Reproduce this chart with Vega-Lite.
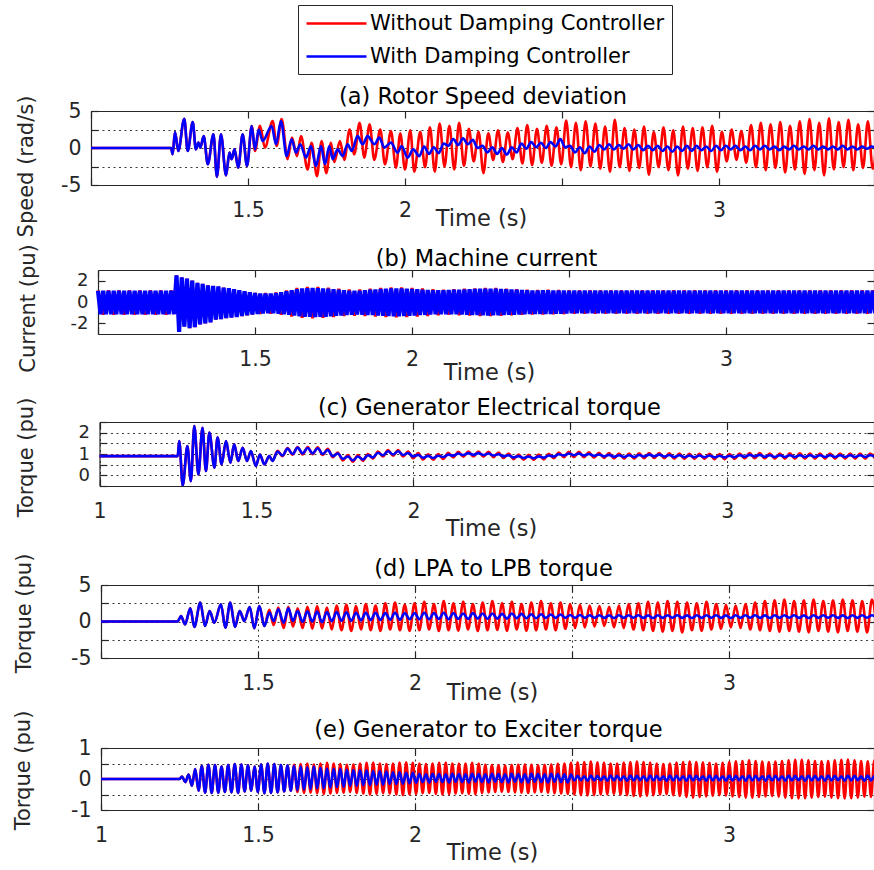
{
"$schema":"https://vega.github.io/schema/vega-lite/v6.json",
"padding":{"left":12,"top":4,"right":0,"bottom":0},
"config":{
"font":"DejaVu Sans",
"view":{"stroke":null},
"axis":{"labelFont":"DejaVu Sans","labelFontSize":20.5,"labelColor":"#262626","titleFont":"DejaVu Sans","titleFontSize":22.5,"titleFontWeight":"normal","titleColor":"#262626","domainColor":"#262626","domainWidth":1.2,"tickColor":"#262626","tickWidth":1.2,"tickSize":-7,"gridColor":"#262626","gridDash":[2,3.5],"gridWidth":1,"gridOpacity":0.9,"labelFlush":false,"labelOverlap":false,"titleAlign":"center"},
"axisX":{"titleBaseline":"alphabetic","labelPadding":22},
"axisY":{"titleBaseline":"middle","labelPadding":17,"titleAngle":270,"titleFontSize":21}
},
"datasets":{
"aB":[{"t":1,"v":0},{"t":1.255,"v":0},{"t":1.26,"v":-0.85},{"t":1.2675,"v":2.16},{"t":1.278,"v":-0.4},{"t":1.297,"v":3.96},{"t":1.308,"v":-0.4},{"t":1.324,"v":3.5},{"t":1.334,"v":-0.18},{"t":1.342,"v":0.72},{"t":1.348,"v":0.05},{"t":1.359,"v":1.6},{"t":1.372,"v":-2.2},{"t":1.39,"v":1.85},{"t":1.401,"v":-3.9},{"t":1.414,"v":1.85},{"t":1.43,"v":-3.7},{"t":1.441,"v":-0.63},{"t":1.448,"v":-1.5},{"t":1.457,"v":-0.18},{"t":1.469,"v":-2.66},{"t":1.483,"v":1.85},{"t":1.497,"v":-2.43},{"t":1.512,"v":2.97},
{"t":1.5223,"v":-0.18},{"t":1.534,"v":2.5},{"t":1.5467,"v":0.95},{"t":1.5754,"v":2.97},{"t":1.5892,"v":0.5},{"t":1.6051,"v":3.65},{"t":1.6231,"v":-1.08},{"t":1.6391,"v":1.17},{"t":1.6529,"v":-0.63},{"t":1.6667,"v":0.5},{"t":1.6847,"v":-1.3},{"t":1.7006,"v":0.27},{"t":1.7166,"v":-2.43},{"t":1.7325,"v":0.27},{"t":1.7452,"v":-2.2},{"t":1.759,"v":0.27},{"t":1.7697,"v":-1.5},{"t":1.7856,"v":-0.18},{"t":1.8015,"v":-1.1},{"t":1.8174,"v":0.5},{"t":1.8301,"v":-0.4},{"t":1.8492,"v":1.6},{"t":1.8652,"v":0.5},{"t":1.8811,"v":1.6},{"t":1.9023,"v":0.5},{"t":1.9183,"v":1.4},{"t":1.9342,"v":0.05},{"t":1.9554,"v":0.72},{"t":1.9766,"v":-0.63},{"t":1.9894,"v":0.27},{"t":2.0085,"v":-1.3},{"t":2.0265,"v":-0.18},{"t":2.0456,"v":-1.1},
{"t":2.061,"v":0.2},{"t":2.0765,"v":-0.8},{"t":2.092,"v":0.1},{"t":2.1075,"v":-0.7},{"t":2.123,"v":0.6},{"t":2.1385,"v":0.3},{"t":2.154,"v":1.2},{"t":2.1695,"v":0.4},{"t":2.185,"v":1.3},{"t":2.2005,"v":0.5},{"t":2.216,"v":1.1},{"t":2.2315,"v":0},{"t":2.247,"v":0.3},{"t":2.2625,"v":-0.6},{"t":2.278,"v":0.1},{"t":2.2935,"v":-0.8},{"t":2.309,"v":0},{"t":2.3245,"v":-0.9},{"t":2.34,"v":0.1},{"t":2.3555,"v":-0.6},{"t":2.371,"v":0.6},{"t":2.3865,"v":-0.1},{"t":2.402,"v":0.8},{"t":2.4175,"v":0.1},{"t":2.433,"v":0.7},{"t":2.4485,"v":0},{"t":2.464,"v":0.8},{"t":2.4795,"v":0.2},{"t":2.495,"v":1.2},{"t":2.5105,"v":0.1},{"t":2.526,"v":0.3},{"t":2.5415,"v":-0.6},{"t":2.557,"v":0.1},{"t":2.5725,"v":-0.7},{"t":2.588,"v":0.2},{"t":2.6035,"v":-0.5},{"t":2.619,"v":0.4},{"t":2.6345,"v":-0.2},{"t":2.65,"v":0.5},{"t":2.6655,"v":-0.2},{"t":2.681,"v":0.4},{"t":2.6965,"v":-0.1},{"t":2.712,"v":0.5},{"t":2.7275,"v":-0.2},{"t":2.743,"v":0.4},{"t":2.7585,"v":-0.3},{"t":2.774,"v":0.3},{"t":2.7895,"v":-0.3},{"t":2.805,"v":0.3},{"t":2.8205,"v":-0.4},{"t":2.836,"v":0.2},{"t":2.8515,"v":-0.5},{"t":2.867,"v":0.2},{"t":2.8825,"v":-0.4},{"t":2.898,"v":0.3},{"t":2.9135,"v":-0.4},{"t":2.929,"v":0.3},{"t":2.9445,"v":-0.3},{"t":2.96,"v":0.2},{"t":2.9755,"v":-0.4},{"t":2.991,"v":0.3},{"t":3.0065,"v":-0.3},{"t":3.022,"v":0.3},{"t":3.0375,"v":-0.2},{"t":3.053,"v":0.3},{"t":3.0685,"v":-0.3},{"t":3.084,"v":0.2},{"t":3.0995,"v":-0.3},{"t":3.115,"v":0.3},{"t":3.1305,"v":-0.2},{"t":3.146,"v":0.3},{"t":3.1615,"v":-0.2},{"t":3.177,"v":0.2},{"t":3.1925,"v":-0.3},{"t":3.208,"v":0.2},{"t":3.2235,"v":-0.2},{"t":3.239,"v":0.3},{"t":3.2545,"v":-0.2},{"t":3.27,"v":0.2},{"t":3.2855,"v":-0.2},{"t":3.301,"v":0.3},{"t":3.3165,"v":-0.2},{"t":3.332,"v":0.2},{"t":3.3475,"v":-0.2},{"t":3.363,"v":0.2},{"t":3.3785,"v":-0.2},{"t":3.394,"v":0.3},{"t":3.4095,"v":-0.2},{"t":3.425,"v":0.2},{"t":3.4405,"v":-0.2},{"t":3.456,"v":0.2},{"t":3.4715,"v":-0.1},{"t":3.487,"v":0.2},{"t":3.5025,"v":-0.1}],
"aR":[{"t":1,"v":0},{"t":1.255,"v":0},{"t":1.26,"v":-0.85},{"t":1.2675,"v":2.16},{"t":1.278,"v":-0.4},{"t":1.297,"v":3.96},{"t":1.308,"v":-0.4},{"t":1.324,"v":3.5},{"t":1.334,"v":-0.18},{"t":1.342,"v":0.72},{"t":1.348,"v":0.05},{"t":1.359,"v":1.6},{"t":1.372,"v":-2.2},{"t":1.39,"v":1.85},{"t":1.401,"v":-3.9},{"t":1.414,"v":1.85},{"t":1.43,"v":-3.7},{"t":1.441,"v":-0.63},{"t":1.448,"v":-1.5},{"t":1.457,"v":-0.18},{"t":1.469,"v":-2.66},{"t":1.483,"v":1.85},{"t":1.497,"v":-2.43},{"t":1.512,"v":2.97},
{"t":1.5223,"v":-0.4},{"t":1.5382,"v":3},{"t":1.5541,"v":0.05},{"t":1.5786,"v":3.65},{"t":1.5913,"v":0.27},{"t":1.6072,"v":3.9},{"t":1.6263,"v":-1.5},{"t":1.6401,"v":1.4},{"t":1.6561,"v":-1.1},{"t":1.6688,"v":1.6},{"t":1.69,"v":-2.9},{"t":1.7028,"v":0.7},{"t":1.7197,"v":-3.8},{"t":1.7346,"v":0.95},{"t":1.7495,"v":-3.4},{"t":1.7643,"v":0.7},{"t":1.775,"v":-1.9},{"t":1.793,"v":0.95},{"t":1.8068,"v":-1.6},{"t":1.8238,"v":2.5},{"t":1.8386,"v":-0.85},{"t":1.8556,"v":3.4},{"t":1.8705,"v":-1.3},{"t":1.8875,"v":3.2},{"t":1.9023,"v":-1.6},{"t":1.9214,"v":2.5},{"t":1.9363,"v":-2.2},{"t":1.9554,"v":2.3},{"t":1.9713,"v":-2.66},{"t":1.9851,"v":2},{"t":2,"v":-2.9},{"t":2.017,"v":2.4},{"t":2.0297,"v":-3.2},{"t":2.0488,"v":2.2},
{"t":2.064,"v":-2.6},{"t":2.0795,"v":2.8},{"t":2.095,"v":-3.2},{"t":2.1105,"v":3.3},{"t":2.126,"v":-2.5},{"t":2.1415,"v":3},{"t":2.157,"v":-2.9},{"t":2.1725,"v":3.4},{"t":2.188,"v":-2.4},{"t":2.2035,"v":2.6},{"t":2.219,"v":-1.8},{"t":2.2345,"v":2.2},{"t":2.25,"v":-3.4},{"t":2.2655,"v":2},{"t":2.281,"v":-1.6},{"t":2.2965,"v":2.4},{"t":2.312,"v":-1.9},{"t":2.3275,"v":2.1},{"t":2.343,"v":-1.5},{"t":2.3585,"v":2.7},{"t":2.374,"v":-2.1},{"t":2.3895,"v":3.1},{"t":2.405,"v":-2.3},{"t":2.4205,"v":2.6},{"t":2.436,"v":-2},{"t":2.4515,"v":3},{"t":2.467,"v":-2.4},{"t":2.4825,"v":2.8},{"t":2.498,"v":-2.2},{"t":2.5135,"v":3.7},{"t":2.529,"v":-2.6},{"t":2.5445,"v":3.4},{"t":2.56,"v":-3},{"t":2.5755,"v":3.6},{"t":2.591,"v":-2.5},{"t":2.6065,"v":3.3},{"t":2.622,"v":-2.8},{"t":2.6375,"v":2.9},{"t":2.653,"v":-3.2},{"t":2.6685,"v":3.8},{"t":2.684,"v":-2.6},{"t":2.6995,"v":2.7},{"t":2.715,"v":-3.1},{"t":2.7305,"v":2.5},{"t":2.746,"v":-2.7},{"t":2.7615,"v":2.9},{"t":2.777,"v":-3.6},{"t":2.7925,"v":2.2},{"t":2.808,"v":-2.6},{"t":2.8235,"v":2.8},{"t":2.839,"v":-3},{"t":2.8545,"v":2.4},{"t":2.87,"v":-3.7},{"t":2.8855,"v":2.9},{"t":2.901,"v":-2.8},{"t":2.9165,"v":2.7},{"t":2.932,"v":-3.1},{"t":2.9475,"v":2.8},{"t":2.963,"v":-2.6},{"t":2.9785,"v":3},{"t":2.994,"v":-3.2},{"t":3.0095,"v":2.2},{"t":3.025,"v":-1.8},{"t":3.0405,"v":2.5},{"t":3.056,"v":-1.6},{"t":3.0715,"v":2.3},{"t":3.087,"v":-2},{"t":3.1025,"v":3.1},{"t":3.118,"v":-2.6},{"t":3.1335,"v":3.4},{"t":3.149,"v":-3},{"t":3.1645,"v":3.2},{"t":3.18,"v":-2.7},{"t":3.1955,"v":3.5},{"t":3.211,"v":-3.3},{"t":3.2265,"v":3},{"t":3.242,"v":-2.9},{"t":3.2575,"v":3.6},{"t":3.273,"v":-3.5},{"t":3.2885,"v":3.9},{"t":3.304,"v":-3},{"t":3.3195,"v":3.4},{"t":3.335,"v":-3.7},{"t":3.3505,"v":4},{"t":3.366,"v":-2.9},{"t":3.3815,"v":3.5},{"t":3.397,"v":-2.6},{"t":3.4125,"v":3.8},{"t":3.428,"v":-3},{"t":3.4435,"v":3.2},{"t":3.459,"v":-2.7},{"t":3.4745,"v":3.6},{"t":3.49,"v":-2.8},{"t":3.5055,"v":3.3}],
"bB":[{"t":1,"v":1.05},{"t":1.0083,"v":-1.14},{"t":1.0167,"v":1.05},{"t":1.025,"v":-1.14},{"t":1.0333,"v":1.05},{"t":1.0417,"v":-1.14},{"t":1.05,"v":1.05},{"t":1.0583,"v":-1.14},{"t":1.0667,"v":1.05},{"t":1.075,"v":-1.14},{"t":1.0833,"v":1.05},{"t":1.0917,"v":-1.14},
{"t":1.1,"v":1.05},{"t":1.1083,"v":-1.14},{"t":1.1167,"v":1.05},{"t":1.125,"v":-1.14},{"t":1.1333,"v":1.05},{"t":1.1417,"v":-1.14},{"t":1.15,"v":1.05},{"t":1.1583,"v":-1.14},{"t":1.1667,"v":1.05},{"t":1.175,"v":-1.14},{"t":1.1833,"v":1.05},{"t":1.1917,"v":-1.14},
{"t":1.2,"v":1.05},{"t":1.2083,"v":-1.14},{"t":1.2167,"v":1.05},{"t":1.225,"v":-1.14},{"t":1.2333,"v":1.05},{"t":1.2417,"v":-1.14},{"t":1.25,"v":2.5},{"t":1.2583,"v":-2.8},{"t":1.2667,"v":2.3},{"t":1.275,"v":-2.3},{"t":1.2833,"v":2.2},{"t":1.2917,"v":-2.45},
{"t":1.3,"v":2},{"t":1.3083,"v":-2.35},{"t":1.3167,"v":1.8},{"t":1.325,"v":-2.1},{"t":1.3333,"v":1.7},{"t":1.3417,"v":-2},{"t":1.35,"v":1.55},{"t":1.3583,"v":-1.9},{"t":1.3667,"v":1.5},{"t":1.375,"v":-1.65},{"t":1.3833,"v":1.45},{"t":1.3917,"v":-1.6},
{"t":1.4,"v":1.35},{"t":1.4083,"v":-1.5},{"t":1.4167,"v":1.3},{"t":1.425,"v":-1.45},{"t":1.4333,"v":1.2},{"t":1.4417,"v":-1.4},{"t":1.45,"v":1.1},{"t":1.4583,"v":-1.32},{"t":1.4667,"v":1},{"t":1.475,"v":-1.25},{"t":1.4833,"v":0.92},{"t":1.4917,"v":-1.18},
{"t":1.5,"v":0.85},{"t":1.5083,"v":-1.12},{"t":1.5167,"v":0.8},{"t":1.525,"v":-1.08},{"t":1.5333,"v":0.8},{"t":1.5417,"v":-1.06},{"t":1.55,"v":0.8},{"t":1.5583,"v":-1.06},{"t":1.5667,"v":0.85},{"t":1.575,"v":-1.1},{"t":1.5833,"v":0.92},{"t":1.5917,"v":-1.14},
{"t":1.6,"v":1},{"t":1.6083,"v":-1.2},{"t":1.6167,"v":1.1},{"t":1.625,"v":-1.28},{"t":1.6333,"v":1.2},{"t":1.6417,"v":-1.34},{"t":1.65,"v":1.28},{"t":1.6583,"v":-1.38},{"t":1.6667,"v":1.3},{"t":1.675,"v":-1.4},{"t":1.6833,"v":1.32},{"t":1.6917,"v":-1.42},
{"t":1.7,"v":1.3},{"t":1.7083,"v":-1.4},{"t":1.7167,"v":1.28},{"t":1.725,"v":-1.38},{"t":1.7333,"v":1.24},{"t":1.7417,"v":-1.34},{"t":1.75,"v":1.2},{"t":1.7583,"v":-1.3},{"t":1.7667,"v":1.15},{"t":1.775,"v":-1.26},{"t":1.7833,"v":1.1},{"t":1.7917,"v":-1.22},
{"t":1.8,"v":1.06},{"t":1.8083,"v":-1.2},{"t":1.8167,"v":1.05},{"t":1.825,"v":-1.18},{"t":1.8333,"v":1.06},{"t":1.8417,"v":-1.19},{"t":1.85,"v":1.1},{"t":1.8583,"v":-1.21},{"t":1.8667,"v":1.14},{"t":1.875,"v":-1.23},{"t":1.8833,"v":1.18},{"t":1.8917,"v":-1.26},
{"t":1.9,"v":1.22},{"t":1.9083,"v":-1.29},{"t":1.9167,"v":1.25},{"t":1.925,"v":-1.31},{"t":1.9333,"v":1.27},{"t":1.9417,"v":-1.33},{"t":1.95,"v":1.28},{"t":1.9583,"v":-1.33},{"t":1.9667,"v":1.27},{"t":1.975,"v":-1.31},{"t":1.9833,"v":1.25},{"t":1.9917,"v":-1.29},
{"t":2,"v":1.22},{"t":2.0083,"v":-1.26},{"t":2.0167,"v":1.19},{"t":2.025,"v":-1.23},{"t":2.0333,"v":1.16},{"t":2.0417,"v":-1.21},{"t":2.05,"v":1.13},{"t":2.0583,"v":-1.18},{"t":2.0667,"v":1.11},{"t":2.075,"v":-1.16},{"t":2.0833,"v":1.1},{"t":2.0917,"v":-1.15},
{"t":2.1,"v":1.1},{"t":2.1083,"v":-1.14},{"t":2.1167,"v":1.12},{"t":2.125,"v":-1.15},{"t":2.1333,"v":1.14},{"t":2.1417,"v":-1.16},{"t":2.15,"v":1.16},{"t":2.1583,"v":-1.18},{"t":2.1667,"v":1.18},{"t":2.175,"v":-1.2},{"t":2.1833,"v":1.2},{"t":2.1917,"v":-1.22},
{"t":2.2,"v":1.22},{"t":2.2083,"v":-1.23},{"t":2.2167,"v":1.24},{"t":2.225,"v":-1.25},{"t":2.2333,"v":1.25},{"t":2.2417,"v":-1.26},{"t":2.25,"v":1.25},{"t":2.2583,"v":-1.25},{"t":2.2667,"v":1.24},{"t":2.275,"v":-1.24},{"t":2.2833,"v":1.22},{"t":2.2917,"v":-1.22},
{"t":2.3,"v":1.2},{"t":2.3083,"v":-1.2},{"t":2.3167,"v":1.18},{"t":2.325,"v":-1.19},{"t":2.3333,"v":1.15},{"t":2.3417,"v":-1.17},{"t":2.35,"v":1.12},{"t":2.3583,"v":-1.15},{"t":2.3667,"v":1.1},{"t":2.375,"v":-1.13},{"t":2.3833,"v":1.08},{"t":2.3917,"v":-1.12},
{"t":2.4,"v":1.08},{"t":2.4083,"v":-1.12},{"t":2.4167,"v":1.1},{"t":2.425,"v":-1.13},{"t":2.4333,"v":1.1},{"t":2.4417,"v":-1.12},{"t":2.45,"v":1.09},{"t":2.4583,"v":-1.11},{"t":2.4667,"v":1.08},{"t":2.475,"v":-1.1},{"t":2.4833,"v":1.07},{"t":2.4917,"v":-1.09},
{"t":2.5,"v":1.05},{"t":2.5083,"v":-1.06},{"t":2.5167,"v":1.07},{"t":2.525,"v":-1.05},{"t":2.5333,"v":1.05},{"t":2.5417,"v":-1.06},{"t":2.55,"v":1.07},{"t":2.5583,"v":-1.05},{"t":2.5667,"v":1.05},{"t":2.575,"v":-1.06},{"t":2.5833,"v":1.07},{"t":2.5917,"v":-1.05},
{"t":2.6,"v":1.05},{"t":2.6083,"v":-1.06},{"t":2.6167,"v":1.07},{"t":2.625,"v":-1.05},{"t":2.6333,"v":1.05},{"t":2.6417,"v":-1.06},{"t":2.65,"v":1.07},{"t":2.6583,"v":-1.05},{"t":2.6667,"v":1.05},{"t":2.675,"v":-1.06},{"t":2.6833,"v":1.07},{"t":2.6917,"v":-1.05},
{"t":2.7,"v":1.05},{"t":2.7083,"v":-1.06},{"t":2.7167,"v":1.07},{"t":2.725,"v":-1.05},{"t":2.7333,"v":1.05},{"t":2.7417,"v":-1.06},{"t":2.75,"v":1.07},{"t":2.7583,"v":-1.05},{"t":2.7667,"v":1.05},{"t":2.775,"v":-1.06},{"t":2.7833,"v":1.07},{"t":2.7917,"v":-1.05},
{"t":2.8,"v":1.05},{"t":2.8083,"v":-1.06},{"t":2.8167,"v":1.07},{"t":2.825,"v":-1.05},{"t":2.8333,"v":1.05},{"t":2.8417,"v":-1.06},{"t":2.85,"v":1.07},{"t":2.8583,"v":-1.05},{"t":2.8667,"v":1.05},{"t":2.875,"v":-1.06},{"t":2.8833,"v":1.07},{"t":2.8917,"v":-1.05},
{"t":2.9,"v":1.05},{"t":2.9083,"v":-1.06},{"t":2.9167,"v":1.07},{"t":2.925,"v":-1.05},{"t":2.9333,"v":1.05},{"t":2.9417,"v":-1.06},{"t":2.95,"v":1.07},{"t":2.9583,"v":-1.05},{"t":2.9667,"v":1.05},{"t":2.975,"v":-1.06},{"t":2.9833,"v":1.07},{"t":2.9917,"v":-1.05},
{"t":3,"v":1.05},{"t":3.0083,"v":-1.06},{"t":3.0167,"v":1.07},{"t":3.025,"v":-1.05},{"t":3.0333,"v":1.05},{"t":3.0417,"v":-1.06},{"t":3.05,"v":1.07},{"t":3.0583,"v":-1.05},{"t":3.0667,"v":1.05},{"t":3.075,"v":-1.06},{"t":3.0833,"v":1.07},{"t":3.0917,"v":-1.05},
{"t":3.1,"v":1.05},{"t":3.1083,"v":-1.06},{"t":3.1167,"v":1.07},{"t":3.125,"v":-1.05},{"t":3.1333,"v":1.05},{"t":3.1417,"v":-1.06},{"t":3.15,"v":1.07},{"t":3.1583,"v":-1.05},{"t":3.1667,"v":1.05},{"t":3.175,"v":-1.06},{"t":3.1833,"v":1.07},{"t":3.1917,"v":-1.05},
{"t":3.2,"v":1.05},{"t":3.2083,"v":-1.06},{"t":3.2167,"v":1.07},{"t":3.225,"v":-1.05},{"t":3.2333,"v":1.05},{"t":3.2417,"v":-1.06},{"t":3.25,"v":1.07},{"t":3.2583,"v":-1.05},{"t":3.2667,"v":1.05},{"t":3.275,"v":-1.06},{"t":3.2833,"v":1.07},{"t":3.2917,"v":-1.05},
{"t":3.3,"v":1.05},{"t":3.3083,"v":-1.06},{"t":3.3167,"v":1.07},{"t":3.325,"v":-1.05},{"t":3.3333,"v":1.05},{"t":3.3417,"v":-1.06},{"t":3.35,"v":1.07},{"t":3.3583,"v":-1.05},{"t":3.3667,"v":1.05},{"t":3.375,"v":-1.06},{"t":3.3833,"v":1.07},{"t":3.3917,"v":-1.05},
{"t":3.4,"v":1.05},{"t":3.4083,"v":-1.06},{"t":3.4167,"v":1.07},{"t":3.425,"v":-1.05},{"t":3.4333,"v":1.05},{"t":3.4417,"v":-1.06},{"t":3.45,"v":1.07},{"t":3.4583,"v":-1.05},{"t":3.4667,"v":1.05},{"t":3.475,"v":-1.06},{"t":3.4833,"v":1.07}],
"bR":[{"t":1,"v":1.09},{"t":1.0167,"v":-1.18},{"t":1.0333,"v":1.09},{"t":1.05,"v":-1.18},{"t":1.0667,"v":1.09},{"t":1.0833,"v":-1.18},{"t":1.1,"v":1.09},{"t":1.1167,"v":-1.18},{"t":1.1333,"v":1.09},{"t":1.15,"v":-1.18},{"t":1.1667,"v":1.09},{"t":1.1833,"v":-1.18},{"t":1.2,"v":1.09},{"t":1.2167,"v":-1.18},{"t":1.2333,"v":1.09},
{"t":1.2417,"v":-1.14},{"t":1.25,"v":2.5},{"t":1.2583,"v":-2.8},{"t":1.2667,"v":2.3},{"t":1.275,"v":-2.3},{"t":1.2833,"v":2.2},{"t":1.2917,"v":-2.45},{"t":1.3,"v":2},{"t":1.3083,"v":-2.35},{"t":1.3167,"v":1.8},{"t":1.325,"v":-2.1},{"t":1.3333,"v":1.7},{"t":1.3417,"v":-2},{"t":1.35,"v":1.55},{"t":1.3583,"v":-1.9},{"t":1.3667,"v":1.5},{"t":1.375,"v":-1.65},{"t":1.3833,"v":1.45},{"t":1.3917,"v":-1.6},{"t":1.4,"v":1.35},{"t":1.4083,"v":-1.5},{"t":1.4167,"v":1.3},{"t":1.425,"v":-1.45},{"t":1.4333,"v":1.2},{"t":1.4417,"v":-1.4},{"t":1.45,"v":1.1},{"t":1.4583,"v":-1.32},{"t":1.4667,"v":1},{"t":1.475,"v":-1.25},{"t":1.4833,"v":0.92},{"t":1.4917,"v":-1.18},{"t":1.5,"v":0.85},
{"t":1.5167,"v":-1.12},{"t":1.5333,"v":0.84},{"t":1.55,"v":-1.1},{"t":1.5667,"v":0.89},{"t":1.5833,"v":-1.18},{"t":1.6,"v":1.08},{"t":1.6167,"v":-1.36},{"t":1.6333,"v":1.32},{"t":1.65,"v":-1.48},{"t":1.6667,"v":1.4},{"t":1.6833,"v":-1.52},{"t":1.7,"v":1.4},{"t":1.7167,"v":-1.48},{"t":1.7333,"v":1.34},{"t":1.75,"v":-1.4},{"t":1.7667,"v":1.25},{"t":1.7833,"v":-1.32},{"t":1.8,"v":1.16},{"t":1.8167,"v":-1.28},{"t":1.8333,"v":1.16},{"t":1.85,"v":-1.31},{"t":1.8667,"v":1.24},{"t":1.8833,"v":-1.36},{"t":1.9,"v":1.32},{"t":1.9167,"v":-1.41},{"t":1.9333,"v":1.37},{"t":1.95,"v":-1.43},{"t":1.9667,"v":1.37},{"t":1.9833,"v":-1.41},{"t":2,"v":1.32},{"t":2.0167,"v":-1.36},{"t":2.0333,"v":1.26},{"t":2.05,"v":-1.3},{"t":2.0667,"v":1.19},{"t":2.0833,"v":-1.24},{"t":2.1,"v":1.15},{"t":2.1167,"v":-1.2},{"t":2.1333,"v":1.19},{"t":2.15,"v":-1.23},{"t":2.1667,"v":1.23},{"t":2.1833,"v":-1.27},{"t":2.2,"v":1.27},{"t":2.2167,"v":-1.3},{"t":2.2333,"v":1.3},{"t":2.25,"v":-1.31},{"t":2.2667,"v":1.3},{"t":2.2833,"v":-1.29},{"t":2.3,"v":1.25},{"t":2.3167,"v":-1.24},{"t":2.3333,"v":1.2},{"t":2.35,"v":-1.2},{"t":2.3667,"v":1.15},{"t":2.3833,"v":-1.17},{"t":2.4,"v":1.13},{"t":2.4167,"v":-1.17},{"t":2.4333,"v":1.14},{"t":2.45,"v":-1.15},{"t":2.4667,"v":1.12},{"t":2.4833,"v":-1.13},{"t":2.5,"v":1.09},
{"t":2.5167,"v":-1.09},{"t":2.5333,"v":1.09},{"t":2.55,"v":-1.09},{"t":2.5667,"v":1.09},{"t":2.5833,"v":-1.09},{"t":2.6,"v":1.09},{"t":2.6167,"v":-1.09},{"t":2.6333,"v":1.09},{"t":2.65,"v":-1.09},{"t":2.6667,"v":1.09},{"t":2.6833,"v":-1.09},{"t":2.7,"v":1.09},{"t":2.7167,"v":-1.09},{"t":2.7333,"v":1.09},{"t":2.75,"v":-1.09},{"t":2.7667,"v":1.09},{"t":2.7833,"v":-1.09},{"t":2.8,"v":1.09},{"t":2.8167,"v":-1.09},{"t":2.8333,"v":1.09},{"t":2.85,"v":-1.09},{"t":2.8667,"v":1.09},{"t":2.8833,"v":-1.09},{"t":2.9,"v":1.09},{"t":2.9167,"v":-1.09},{"t":2.9333,"v":1.09},{"t":2.95,"v":-1.09},{"t":2.9667,"v":1.09},{"t":2.9833,"v":-1.09},{"t":3,"v":1.09},{"t":3.0167,"v":-1.09},{"t":3.0333,"v":1.09},{"t":3.05,"v":-1.09},{"t":3.0667,"v":1.09},{"t":3.0833,"v":-1.09},{"t":3.1,"v":1.09},{"t":3.1167,"v":-1.09},{"t":3.1333,"v":1.09},{"t":3.15,"v":-1.09},{"t":3.1667,"v":1.09},{"t":3.1833,"v":-1.09},{"t":3.2,"v":1.09},{"t":3.2167,"v":-1.09},{"t":3.2333,"v":1.09},{"t":3.25,"v":-1.09},{"t":3.2667,"v":1.09},{"t":3.2833,"v":-1.09},{"t":3.3,"v":1.09},{"t":3.3167,"v":-1.09},{"t":3.3333,"v":1.09},{"t":3.35,"v":-1.09},{"t":3.3667,"v":1.09},{"t":3.3833,"v":-1.09},{"t":3.4,"v":1.09},{"t":3.4167,"v":-1.09},{"t":3.4333,"v":1.09},{"t":3.45,"v":-1.09},{"t":3.4667,"v":1.09},{"t":3.4833,"v":-1.09}],
"cB":[{"t":1,"v":0.9},{"t":1.249,"v":0.9},{"t":1.254,"v":1.61},{"t":1.265,"v":-0.47},{"t":1.28,"v":1.37},{"t":1.291,"v":-0.27},{"t":1.302,"v":2.31},{"t":1.315,"v":0.04},{"t":1.328,"v":2.23},{"t":1.339,"v":0.2},{"t":1.35,"v":2},{"t":1.366,"v":0.36},{"t":1.376,"v":1.77},{"t":1.389,"v":0.52},{"t":1.403,"v":1.61},{"t":1.417,"v":0.59},{"t":1.429,"v":1.45},{"t":1.442,"v":0.67},{"t":1.456,"v":1.29},{"t":1.47,"v":0.67},{"t":1.482,"v":1.14},{"t":1.498,"v":0.44},{"t":1.511,"v":0.98},{"t":1.525,"v":0.52},{"t":1.541,"v":0.9},{"t":1.551,"v":0.67},
{"t":1.567,"v":1.12},{"t":1.583,"v":0.93},{"t":1.599,"v":1.25},{"t":1.615,"v":1},{"t":1.631,"v":1.3},{"t":1.647,"v":1.03},{"t":1.663,"v":1.28},{"t":1.679,"v":1.03},{"t":1.695,"v":1.27},{"t":1.711,"v":1},{"t":1.727,"v":1.19},{"t":1.743,"v":0.9},{"t":1.759,"v":1.02},{"t":1.775,"v":0.77},{"t":1.791,"v":0.88},{"t":1.807,"v":0.7},{"t":1.823,"v":0.88},{"t":1.839,"v":0.74},{"t":1.855,"v":0.94},{"t":1.871,"v":0.84},{"t":1.887,"v":1.06},{"t":1.903,"v":0.94},{"t":1.919,"v":1.13},{"t":1.935,"v":0.98},{"t":1.951,"v":1.13},{"t":1.967,"v":0.95},{"t":1.983,"v":1.05},{"t":1.999,"v":0.88},{"t":2.015,"v":0.96},{"t":2.031,"v":0.82},{"t":2.047,"v":0.91},{"t":2.063,"v":0.81},{"t":2.079,"v":0.92},{"t":2.095,"v":0.86},{"t":2.111,"v":0.97},{"t":2.127,"v":0.92},{"t":2.143,"v":1.02},{"t":2.159,"v":0.95},{"t":2.175,"v":1.04},{"t":2.191,"v":0.96},{"t":2.207,"v":1.04},{"t":2.223,"v":0.95},{"t":2.239,"v":1.02},{"t":2.255,"v":0.93},{"t":2.271,"v":0.99},{"t":2.287,"v":0.89},{"t":2.303,"v":0.94},{"t":2.319,"v":0.84},{"t":2.335,"v":0.9},{"t":2.351,"v":0.81},{"t":2.367,"v":0.88},{"t":2.383,"v":0.8},{"t":2.399,"v":0.89},{"t":2.415,"v":0.83},{"t":2.431,"v":0.93},{"t":2.447,"v":0.88},{"t":2.463,"v":0.99},{"t":2.479,"v":0.93},{"t":2.495,"v":1.02},{"t":2.511,"v":0.94},{"t":2.527,"v":1.02},{"t":2.543,"v":0.93},{"t":2.559,"v":1},{"t":2.575,"v":0.91},{"t":2.591,"v":0.98},{"t":2.607,"v":0.89},{"t":2.623,"v":0.96},{"t":2.639,"v":0.87},{"t":2.655,"v":0.94},{"t":2.671,"v":0.86},{"t":2.687,"v":0.94},{"t":2.703,"v":0.86},{"t":2.719,"v":0.95},{"t":2.735,"v":0.88},{"t":2.751,"v":0.97},{"t":2.767,"v":0.89},{"t":2.783,"v":0.97},{"t":2.799,"v":0.88},{"t":2.815,"v":0.95},{"t":2.831,"v":0.86},{"t":2.847,"v":0.94},{"t":2.863,"v":0.85},{"t":2.879,"v":0.93},{"t":2.895,"v":0.85},{"t":2.911,"v":0.93},{"t":2.927,"v":0.85},{"t":2.943,"v":0.93},{"t":2.959,"v":0.84},{"t":2.975,"v":0.92},{"t":2.991,"v":0.84},{"t":3.007,"v":0.92},{"t":3.023,"v":0.85},{"t":3.039,"v":0.94},{"t":3.055,"v":0.87},{"t":3.071,"v":0.96},{"t":3.087,"v":0.88},{"t":3.103,"v":0.96},{"t":3.119,"v":0.87},{"t":3.135,"v":0.94},{"t":3.151,"v":0.86},{"t":3.167,"v":0.94},{"t":3.183,"v":0.86},{"t":3.199,"v":0.94},{"t":3.215,"v":0.86},{"t":3.231,"v":0.94},{"t":3.247,"v":0.86},{"t":3.263,"v":0.94},{"t":3.279,"v":0.86},{"t":3.295,"v":0.94},{"t":3.311,"v":0.86},{"t":3.327,"v":0.94},{"t":3.343,"v":0.86},{"t":3.359,"v":0.94},{"t":3.375,"v":0.86},{"t":3.391,"v":0.94},{"t":3.407,"v":0.86},{"t":3.423,"v":0.94},{"t":3.439,"v":0.86},{"t":3.455,"v":0.94},{"t":3.471,"v":0.86}],
"cR":[{"t":1,"v":0.9},{"t":1.249,"v":0.9},{"t":1.254,"v":1.61},{"t":1.265,"v":-0.47},{"t":1.28,"v":1.37},{"t":1.291,"v":-0.27},{"t":1.302,"v":2.31},{"t":1.315,"v":0.04},{"t":1.328,"v":2.23},{"t":1.339,"v":0.2},{"t":1.35,"v":2},{"t":1.366,"v":0.36},{"t":1.376,"v":1.77},{"t":1.389,"v":0.52},{"t":1.403,"v":1.61},{"t":1.417,"v":0.59},{"t":1.429,"v":1.45},{"t":1.442,"v":0.67},{"t":1.456,"v":1.29},{"t":1.47,"v":0.67},{"t":1.482,"v":1.14},{"t":1.498,"v":0.44},{"t":1.511,"v":0.98},{"t":1.525,"v":0.52},{"t":1.541,"v":0.9},{"t":1.551,"v":0.67},
{"t":1.567,"v":1.15},{"t":1.583,"v":0.9},{"t":1.599,"v":1.28},{"t":1.615,"v":0.97},{"t":1.631,"v":1.33},{"t":1.647,"v":0.98},{"t":1.663,"v":1.33},{"t":1.679,"v":0.99},{"t":1.695,"v":1.31},{"t":1.711,"v":0.96},{"t":1.727,"v":1.24},{"t":1.743,"v":0.85},{"t":1.759,"v":1.07},{"t":1.775,"v":0.7},{"t":1.791,"v":0.95},{"t":1.807,"v":0.64},{"t":1.823,"v":0.95},{"t":1.839,"v":0.68},{"t":1.855,"v":1},{"t":1.871,"v":0.78},{"t":1.887,"v":1.12},{"t":1.903,"v":0.88},{"t":1.919,"v":1.19},{"t":1.935,"v":0.92},{"t":1.951,"v":1.19},{"t":1.967,"v":0.88},{"t":1.983,"v":1.12},{"t":1.999,"v":0.8},{"t":2.015,"v":1.04},{"t":2.031,"v":0.74},{"t":2.047,"v":0.99},{"t":2.063,"v":0.73},{"t":2.079,"v":1},{"t":2.095,"v":0.77},{"t":2.111,"v":1.06},{"t":2.127,"v":0.84},{"t":2.143,"v":1.1},{"t":2.159,"v":0.87},{"t":2.175,"v":1.12},{"t":2.191,"v":0.88},{"t":2.207,"v":1.12},{"t":2.223,"v":0.87},{"t":2.239,"v":1.1},{"t":2.255,"v":0.85},{"t":2.271,"v":1.07},{"t":2.287,"v":0.81},{"t":2.303,"v":1.02},{"t":2.319,"v":0.76},{"t":2.335,"v":0.98},{"t":2.351,"v":0.73},{"t":2.367,"v":0.96},{"t":2.383,"v":0.72},{"t":2.399,"v":0.97},{"t":2.415,"v":0.75},{"t":2.431,"v":1.01},{"t":2.447,"v":0.8},{"t":2.463,"v":1.07},{"t":2.479,"v":0.85},{"t":2.495,"v":1.1},{"t":2.511,"v":0.86},{"t":2.527,"v":1.1},{"t":2.543,"v":0.85},{"t":2.559,"v":1.08},{"t":2.575,"v":0.83},{"t":2.591,"v":1.06},{"t":2.607,"v":0.81},{"t":2.623,"v":1.04},{"t":2.639,"v":0.79},{"t":2.655,"v":1.02},{"t":2.671,"v":0.78},{"t":2.687,"v":1.02},{"t":2.703,"v":0.78},{"t":2.719,"v":1.03},{"t":2.735,"v":0.8},{"t":2.751,"v":1.05},{"t":2.767,"v":0.81},{"t":2.783,"v":1.05},{"t":2.799,"v":0.8},{"t":2.815,"v":1.03},{"t":2.831,"v":0.78},{"t":2.847,"v":1.02},{"t":2.863,"v":0.77},{"t":2.879,"v":1.01},{"t":2.895,"v":0.77},{"t":2.911,"v":1.01},{"t":2.927,"v":0.77},{"t":2.943,"v":1.01},{"t":2.959,"v":0.76},{"t":2.975,"v":1},{"t":2.991,"v":0.76},{"t":3.007,"v":1},{"t":3.023,"v":0.77},{"t":3.039,"v":1.02},{"t":3.055,"v":0.79},{"t":3.071,"v":1.04},{"t":3.087,"v":0.8},{"t":3.103,"v":1.04},{"t":3.119,"v":0.79},{"t":3.135,"v":1.02},{"t":3.151,"v":0.78},{"t":3.167,"v":1.02},{"t":3.183,"v":0.78},{"t":3.199,"v":1.03},{"t":3.215,"v":0.78},{"t":3.231,"v":1.03},{"t":3.247,"v":0.78},{"t":3.263,"v":1.02},{"t":3.279,"v":0.78},{"t":3.295,"v":1.02},{"t":3.311,"v":0.78},{"t":3.327,"v":1.02},{"t":3.343,"v":0.78},{"t":3.359,"v":1.02},{"t":3.375,"v":0.78},{"t":3.391,"v":1.02},{"t":3.407,"v":0.78},{"t":3.423,"v":1.02},{"t":3.439,"v":0.78},{"t":3.455,"v":1.02},{"t":3.471,"v":0.78}],
"dB":[{"t":1,"v":0},{"t":1.244,"v":0},{"t":1.2548,"v":0.75},{"t":1.2675,"v":-0.39},{"t":1.2845,"v":1.8},{"t":1.2972,"v":-0.75},{"t":1.3163,"v":2.58},{"t":1.3312,"v":-0.62},{"t":1.346,"v":1.44},{"t":1.3609,"v":-0.16},{"t":1.382,"v":2.35},{"t":1.3959,"v":-0.84},{"t":1.4118,"v":2.58},{"t":1.4267,"v":-0.75},{"t":1.4416,"v":1.44},{"t":1.4565,"v":0.07},{"t":1.4735,"v":1.98},{"t":1.4883,"v":-0.93},{"t":1.5042,"v":2.12},{"t":1.5202,"v":-0.62},
{"t":1.5361,"v":1.21},{"t":1.5499,"v":0.07},{"t":1.5647,"v":1.67},{"t":1.5817,"v":-0.16},{"t":1.5966,"v":1.8},{"t":1.6115,"v":0.07},{"t":1.6263,"v":1.44},
{"t":1.642,"v":-0.05},{"t":1.6575,"v":1.4},{"t":1.673,"v":0},{"t":1.6885,"v":1.35},{"t":1.704,"v":-0.1},{"t":1.7195,"v":1.3},{"t":1.735,"v":0.05},{"t":1.7505,"v":1.3},{"t":1.766,"v":0.1},{"t":1.7815,"v":1.25},{"t":1.797,"v":0.1},{"t":1.8125,"v":1.2},{"t":1.828,"v":0.15},{"t":1.8435,"v":1.2},{"t":1.859,"v":0.2},{"t":1.8745,"v":1.2},{"t":1.89,"v":0.2},{"t":1.9055,"v":1.15},{"t":1.921,"v":0.25},{"t":1.9365,"v":1.2},{"t":1.952,"v":0.25},{"t":1.9675,"v":1.15},{"t":1.983,"v":0.3},{"t":1.9985,"v":1.15},{"t":2.014,"v":0.3},{"t":2.0295,"v":1.2},{"t":2.045,"v":0.3},{"t":2.0605,"v":1.15},{"t":2.076,"v":0.35},{"t":2.0915,"v":1.2},{"t":2.107,"v":0.3},{"t":2.1225,"v":1.15},{"t":2.138,"v":0.35},{"t":2.1535,"v":1.1},{"t":2.169,"v":0.35},{"t":2.1845,"v":1.15},{"t":2.2,"v":0.4},{"t":2.2155,"v":1.1},{"t":2.231,"v":0.35},{"t":2.2465,"v":1.1},{"t":2.262,"v":0.4},{"t":2.2775,"v":1.05},{"t":2.293,"v":0.4},{"t":2.3085,"v":1.1},{"t":2.324,"v":0.45},{"t":2.3395,"v":1.05},{"t":2.355,"v":0.45},{"t":2.3705,"v":1},{"t":2.386,"v":0.45},{"t":2.4015,"v":1},{"t":2.417,"v":0.5},{"t":2.4325,"v":0.95},{"t":2.448,"v":0.5},{"t":2.4635,"v":0.95},{"t":2.479,"v":0.5},{"t":2.4945,"v":0.9},{"t":2.51,"v":0.5},{"t":2.5255,"v":0.9},{"t":2.541,"v":0.5},{"t":2.5565,"v":0.85},{"t":2.572,"v":0.52},{"t":2.5875,"v":0.86},{"t":2.603,"v":0.5},{"t":2.6185,"v":0.84},{"t":2.634,"v":0.48},{"t":2.6495,"v":0.85},{"t":2.665,"v":0.5},{"t":2.6805,"v":0.86},{"t":2.696,"v":0.52},{"t":2.7115,"v":0.85},{"t":2.727,"v":0.5},{"t":2.7425,"v":0.84},{"t":2.758,"v":0.48},{"t":2.7735,"v":0.85},{"t":2.789,"v":0.5},{"t":2.8045,"v":0.86},{"t":2.82,"v":0.52},{"t":2.8355,"v":0.85},{"t":2.851,"v":0.5},{"t":2.8665,"v":0.84},{"t":2.882,"v":0.48},{"t":2.8975,"v":0.85},{"t":2.913,"v":0.5},{"t":2.9285,"v":0.86},{"t":2.944,"v":0.52},{"t":2.9595,"v":0.85},{"t":2.975,"v":0.5},{"t":2.9905,"v":0.84},{"t":3.006,"v":0.48},{"t":3.0215,"v":0.85},{"t":3.037,"v":0.5},{"t":3.0525,"v":0.86},{"t":3.068,"v":0.52},{"t":3.0835,"v":0.85},{"t":3.099,"v":0.5},{"t":3.1145,"v":0.84},{"t":3.13,"v":0.48},{"t":3.1455,"v":0.85},{"t":3.161,"v":0.5},{"t":3.1765,"v":0.86},{"t":3.192,"v":0.52},{"t":3.2075,"v":0.85},{"t":3.223,"v":0.5},{"t":3.2385,"v":0.84},{"t":3.254,"v":0.48},{"t":3.2695,"v":0.85},{"t":3.285,"v":0.5},{"t":3.3005,"v":0.86},{"t":3.316,"v":0.52},{"t":3.3315,"v":0.85},{"t":3.347,"v":0.5},{"t":3.3625,"v":0.84},{"t":3.378,"v":0.48},{"t":3.3935,"v":0.85},{"t":3.409,"v":0.5},{"t":3.4245,"v":0.86},{"t":3.44,"v":0.52},{"t":3.4555,"v":0.85},{"t":3.471,"v":0.5}],
"dR":[{"t":1,"v":0},{"t":1.244,"v":0},{"t":1.2548,"v":0.75},{"t":1.2675,"v":-0.39},{"t":1.2845,"v":1.8},{"t":1.2972,"v":-0.75},{"t":1.3163,"v":2.58},{"t":1.3312,"v":-0.62},{"t":1.346,"v":1.44},{"t":1.3609,"v":-0.16},{"t":1.382,"v":2.35},{"t":1.3959,"v":-0.84},{"t":1.4118,"v":2.58},{"t":1.4267,"v":-0.75},{"t":1.4416,"v":1.44},{"t":1.4565,"v":0.07},{"t":1.4735,"v":1.98},{"t":1.4883,"v":-0.93},{"t":1.5042,"v":2.12},{"t":1.5202,"v":-0.62},
{"t":1.5361,"v":1.6},{"t":1.5499,"v":-0.5},{"t":1.5647,"v":1.9},{"t":1.5817,"v":-0.9},{"t":1.5966,"v":2},{"t":1.6115,"v":-0.7},{"t":1.6263,"v":1.8},
{"t":1.642,"v":-0.9},{"t":1.6575,"v":2},{"t":1.673,"v":-1},{"t":1.6885,"v":2.1},{"t":1.704,"v":-0.95},{"t":1.7195,"v":1.9},{"t":1.735,"v":-1.1},{"t":1.7505,"v":2.2},{"t":1.766,"v":-1.2},{"t":1.7815,"v":2.3},{"t":1.797,"v":-1.3},{"t":1.8125,"v":2.1},{"t":1.828,"v":-1.1},{"t":1.8435,"v":2.4},{"t":1.859,"v":-1.2},{"t":1.8745,"v":2.2},{"t":1.89,"v":-1.3},{"t":1.9055,"v":2.5},{"t":1.921,"v":-1.1},{"t":1.9365,"v":2.6},{"t":1.952,"v":-1.2},{"t":1.9675,"v":2.3},{"t":1.983,"v":-1.3},{"t":1.9985,"v":2.5},{"t":2.014,"v":-1.2},{"t":2.0295,"v":2.7},{"t":2.045,"v":-1.1},{"t":2.0605,"v":2.4},{"t":2.076,"v":-1.3},{"t":2.0915,"v":2.8},{"t":2.107,"v":-1.2},{"t":2.1225,"v":2.5},{"t":2.138,"v":-1.25},{"t":2.1535,"v":2.7},{"t":2.169,"v":-1.1},{"t":2.1845,"v":2.4},{"t":2.2,"v":-1.3},{"t":2.2155,"v":2.6},{"t":2.231,"v":-1.2},{"t":2.2465,"v":2.8},{"t":2.262,"v":-1.15},{"t":2.2775,"v":2.5},{"t":2.293,"v":-1.3},{"t":2.3085,"v":2.7},{"t":2.324,"v":-1.1},{"t":2.3395,"v":2.4},{"t":2.355,"v":-1.25},{"t":2.3705,"v":2.6},{"t":2.386,"v":-1.2},{"t":2.4015,"v":2.8},{"t":2.417,"v":-1.1},{"t":2.4325,"v":2.5},{"t":2.448,"v":-1.2},{"t":2.4635,"v":2.6},{"t":2.479,"v":-1},{"t":2.4945,"v":2.4},{"t":2.51,"v":-0.9},{"t":2.5255,"v":2.3},{"t":2.541,"v":-0.8},{"t":2.5565,"v":2.2},{"t":2.572,"v":-0.7},{"t":2.5875,"v":2.1},{"t":2.603,"v":-0.6},{"t":2.6185,"v":2},{"t":2.634,"v":-0.8},{"t":2.6495,"v":2.2},{"t":2.665,"v":-0.9},{"t":2.6805,"v":2.4},{"t":2.696,"v":-1.1},{"t":2.7115,"v":2.5},{"t":2.727,"v":-1.2},{"t":2.7425,"v":2.7},{"t":2.758,"v":-1.3},{"t":2.7735,"v":2.6},{"t":2.789,"v":-1.4},{"t":2.8045,"v":2.8},{"t":2.82,"v":-1.3},{"t":2.8355,"v":2.7},{"t":2.851,"v":-1.5},{"t":2.8665,"v":2.6},{"t":2.882,"v":-1.2},{"t":2.8975,"v":2.5},{"t":2.913,"v":-1.3},{"t":2.9285,"v":2.7},{"t":2.944,"v":-1.1},{"t":2.9595,"v":2.4},{"t":2.975,"v":-1},{"t":2.9905,"v":2.3},{"t":3.006,"v":-0.8},{"t":3.0215,"v":2.2},{"t":3.037,"v":-0.9},{"t":3.0525,"v":2.4},{"t":3.068,"v":-1.1},{"t":3.0835,"v":2.6},{"t":3.099,"v":-1.2},{"t":3.1145,"v":2.8},{"t":3.13,"v":-1.3},{"t":3.1455,"v":2.9},{"t":3.161,"v":-1.4},{"t":3.1765,"v":3},{"t":3.192,"v":-1.3},{"t":3.2075,"v":2.8},{"t":3.223,"v":-1.4},{"t":3.2385,"v":2.9},{"t":3.254,"v":-1.5},{"t":3.2695,"v":3},{"t":3.285,"v":-1.3},{"t":3.3005,"v":2.8},{"t":3.316,"v":-1.4},{"t":3.3315,"v":2.9},{"t":3.347,"v":-1.5},{"t":3.3625,"v":3},{"t":3.378,"v":-1.3},{"t":3.3935,"v":2.9},{"t":3.409,"v":-1.4},{"t":3.4245,"v":2.8},{"t":3.44,"v":-1.5},{"t":3.4555,"v":3},{"t":3.471,"v":-1.3}],
"eB":[{"t":1,"v":0},{"t":1.25,"v":0},{"t":1.258,"v":0.08},{"t":1.2685,"v":-0.1},{"t":1.279,"v":0.14},{"t":1.2895,"v":-0.22},{"t":1.3,"v":0.32},{"t":1.3105,"v":-0.38},{"t":1.321,"v":0.42},{"t":1.3315,"v":-0.44},{"t":1.342,"v":0.46},{"t":1.3525,"v":-0.45},{"t":1.363,"v":0.45},{"t":1.3735,"v":-0.44},{"t":1.384,"v":0.4},{"t":1.3945,"v":-0.42},{"t":1.405,"v":0.45},{"t":1.4155,"v":-0.43},{"t":1.426,"v":0.48},{"t":1.4365,"v":-0.45},{"t":1.447,"v":0.47},{"t":1.4575,"v":-0.4},{"t":1.468,"v":0.44},{"t":1.4785,"v":-0.38},{"t":1.489,"v":0.4},{"t":1.4995,"v":-0.42},{"t":1.51,"v":0.47},{"t":1.5205,"v":-0.46},{"t":1.531,"v":0.5},{"t":1.5415,"v":-0.45},{"t":1.552,"v":0.48},{"t":1.5625,"v":-0.43},{"t":1.573,"v":0.45},{"t":1.5835,"v":-0.4},{"t":1.594,"v":0.43},{"t":1.6045,"v":-0.38},
{"t":1.615,"v":0.42},{"t":1.6255,"v":-0.36},{"t":1.636,"v":0.4},{"t":1.6465,"v":-0.34},{"t":1.657,"v":0.38},{"t":1.6675,"v":-0.32},{"t":1.678,"v":0.4},{"t":1.6885,"v":-0.3},{"t":1.699,"v":0.36},{"t":1.7095,"v":-0.3},{"t":1.72,"v":0.34},{"t":1.7305,"v":-0.28},{"t":1.741,"v":0.33},{"t":1.7515,"v":-0.26},{"t":1.762,"v":0.32},{"t":1.7725,"v":-0.25},{"t":1.783,"v":0.3},{"t":1.7935,"v":-0.22},{"t":1.804,"v":0.29},{"t":1.8145,"v":-0.22},{"t":1.825,"v":0.28},{"t":1.8355,"v":-0.2},{"t":1.846,"v":0.27},{"t":1.8565,"v":-0.2},{"t":1.867,"v":0.26},{"t":1.8775,"v":-0.18},{"t":1.888,"v":0.25},{"t":1.8985,"v":-0.18},{"t":1.909,"v":0.24},{"t":1.9195,"v":-0.16},{"t":1.93,"v":0.22},{"t":1.9405,"v":-0.16},{"t":1.951,"v":0.22},{"t":1.9615,"v":-0.15},{"t":1.972,"v":0.2},{"t":1.9825,"v":-0.14},{"t":1.993,"v":0.2},{"t":2.0035,"v":-0.12},
{"t":2.014,"v":0.16},{"t":2.0245,"v":-0.1},{"t":2.035,"v":0.15},{"t":2.0455,"v":-0.11},{"t":2.056,"v":0.17},{"t":2.0665,"v":-0.09},{"t":2.077,"v":0.16},{"t":2.0875,"v":-0.1},{"t":2.098,"v":0.15},{"t":2.1085,"v":-0.11},{"t":2.119,"v":0.17},{"t":2.1295,"v":-0.09},{"t":2.14,"v":0.16},{"t":2.1505,"v":-0.1},{"t":2.161,"v":0.15},{"t":2.1715,"v":-0.11},{"t":2.182,"v":0.17},{"t":2.1925,"v":-0.09},{"t":2.203,"v":0.16},{"t":2.2135,"v":-0.1},{"t":2.224,"v":0.15},{"t":2.2345,"v":-0.11},{"t":2.245,"v":0.17},{"t":2.2555,"v":-0.09},{"t":2.266,"v":0.16},{"t":2.2765,"v":-0.1},{"t":2.287,"v":0.15},{"t":2.2975,"v":-0.11},{"t":2.308,"v":0.17},{"t":2.3185,"v":-0.09},{"t":2.329,"v":0.16},{"t":2.3395,"v":-0.1},{"t":2.35,"v":0.15},{"t":2.3605,"v":-0.11},{"t":2.371,"v":0.17},{"t":2.3815,"v":-0.09},{"t":2.392,"v":0.16},{"t":2.4025,"v":-0.1},{"t":2.413,"v":0.15},{"t":2.4235,"v":-0.11},{"t":2.434,"v":0.17},{"t":2.4445,"v":-0.09},{"t":2.455,"v":0.16},{"t":2.4655,"v":-0.1},{"t":2.476,"v":0.15},{"t":2.4865,"v":-0.11},{"t":2.497,"v":0.14},
{"t":2.5075,"v":-0.05},{"t":2.518,"v":0.1},{"t":2.5285,"v":-0.04},{"t":2.539,"v":0.09},{"t":2.5495,"v":-0.06},{"t":2.56,"v":0.11},{"t":2.5705,"v":-0.05},{"t":2.581,"v":0.1},{"t":2.5915,"v":-0.04},{"t":2.602,"v":0.09},{"t":2.6125,"v":-0.06},{"t":2.623,"v":0.11},{"t":2.6335,"v":-0.05},{"t":2.644,"v":0.1},{"t":2.6545,"v":-0.04},{"t":2.665,"v":0.09},{"t":2.6755,"v":-0.06},{"t":2.686,"v":0.11},{"t":2.6965,"v":-0.05},{"t":2.707,"v":0.1},{"t":2.7175,"v":-0.04},{"t":2.728,"v":0.09},{"t":2.7385,"v":-0.06},{"t":2.749,"v":0.11},{"t":2.7595,"v":-0.05},{"t":2.77,"v":0.1},{"t":2.7805,"v":-0.04},{"t":2.791,"v":0.09},{"t":2.8015,"v":-0.06},{"t":2.812,"v":0.11},{"t":2.8225,"v":-0.05},{"t":2.833,"v":0.1},{"t":2.8435,"v":-0.04},{"t":2.854,"v":0.09},{"t":2.8645,"v":-0.06},{"t":2.875,"v":0.11},{"t":2.8855,"v":-0.05},{"t":2.896,"v":0.1},{"t":2.9065,"v":-0.04},{"t":2.917,"v":0.09},{"t":2.9275,"v":-0.06},{"t":2.938,"v":0.11},{"t":2.9485,"v":-0.05},{"t":2.959,"v":0.1},{"t":2.9695,"v":-0.04},{"t":2.98,"v":0.09},{"t":2.9905,"v":-0.06},{"t":3.001,"v":0.11},{"t":3.0115,"v":-0.05},{"t":3.022,"v":0.1},{"t":3.0325,"v":-0.04},{"t":3.043,"v":0.09},{"t":3.0535,"v":-0.06},{"t":3.064,"v":0.11},{"t":3.0745,"v":-0.05},{"t":3.085,"v":0.1},{"t":3.0955,"v":-0.04},{"t":3.106,"v":0.09},{"t":3.1165,"v":-0.06},{"t":3.127,"v":0.11},{"t":3.1375,"v":-0.05},{"t":3.148,"v":0.1},{"t":3.1585,"v":-0.04},{"t":3.169,"v":0.09},{"t":3.1795,"v":-0.06},{"t":3.19,"v":0.11},{"t":3.2005,"v":-0.05},{"t":3.211,"v":0.1},{"t":3.2215,"v":-0.04},{"t":3.232,"v":0.09},{"t":3.2425,"v":-0.06},{"t":3.253,"v":0.11},{"t":3.2635,"v":-0.05},{"t":3.274,"v":0.1},{"t":3.2845,"v":-0.04},{"t":3.295,"v":0.09},{"t":3.3055,"v":-0.06},{"t":3.316,"v":0.11},{"t":3.3265,"v":-0.05},{"t":3.337,"v":0.1},{"t":3.3475,"v":-0.04},{"t":3.358,"v":0.09},{"t":3.3685,"v":-0.06},{"t":3.379,"v":0.11},{"t":3.3895,"v":-0.05},{"t":3.4,"v":0.1},{"t":3.4105,"v":-0.04},{"t":3.421,"v":0.09},{"t":3.4315,"v":-0.06},{"t":3.442,"v":0.11},{"t":3.4525,"v":-0.05},{"t":3.463,"v":0.1},{"t":3.4735,"v":-0.04}],
"eR":[{"t":1,"v":0},{"t":1.25,"v":0},{"t":1.258,"v":0.08},{"t":1.2685,"v":-0.1},{"t":1.279,"v":0.14},{"t":1.2895,"v":-0.22},{"t":1.3,"v":0.32},{"t":1.3105,"v":-0.38},{"t":1.321,"v":0.42},{"t":1.3315,"v":-0.44},{"t":1.342,"v":0.46},{"t":1.3525,"v":-0.45},{"t":1.363,"v":0.45},{"t":1.3735,"v":-0.44},{"t":1.384,"v":0.4},{"t":1.3945,"v":-0.42},{"t":1.405,"v":0.45},{"t":1.4155,"v":-0.43},{"t":1.426,"v":0.48},{"t":1.4365,"v":-0.45},{"t":1.447,"v":0.47},{"t":1.4575,"v":-0.4},{"t":1.468,"v":0.44},{"t":1.4785,"v":-0.38},{"t":1.489,"v":0.4},{"t":1.4995,"v":-0.42},{"t":1.51,"v":0.47},{"t":1.5205,"v":-0.46},{"t":1.531,"v":0.5},{"t":1.5415,"v":-0.45},{"t":1.552,"v":0.48},{"t":1.5625,"v":-0.43},{"t":1.573,"v":0.45},{"t":1.5835,"v":-0.4},{"t":1.594,"v":0.43},{"t":1.6045,"v":-0.38},
{"t":1.615,"v":0.46},{"t":1.6255,"v":-0.42},{"t":1.636,"v":0.48},{"t":1.6465,"v":-0.45},{"t":1.657,"v":0.5},{"t":1.6675,"v":-0.44},{"t":1.678,"v":0.47},{"t":1.6885,"v":-0.46},{"t":1.699,"v":0.5},{"t":1.7095,"v":-0.48},{"t":1.72,"v":0.52},{"t":1.7305,"v":-0.47},{"t":1.741,"v":0.5},{"t":1.7515,"v":-0.45},{"t":1.762,"v":0.48},{"t":1.7725,"v":-0.44},{"t":1.783,"v":0.46},{"t":1.7935,"v":-0.42},{"t":1.804,"v":0.47},{"t":1.8145,"v":-0.45},{"t":1.825,"v":0.5},{"t":1.8355,"v":-0.47},{"t":1.846,"v":0.52},{"t":1.8565,"v":-0.5},{"t":1.867,"v":0.53},{"t":1.8775,"v":-0.48},{"t":1.888,"v":0.5},{"t":1.8985,"v":-0.46},{"t":1.909,"v":0.48},{"t":1.9195,"v":-0.47},{"t":1.93,"v":0.5},{"t":1.9405,"v":-0.5},{"t":1.951,"v":0.53},{"t":1.9615,"v":-0.52},{"t":1.972,"v":0.54},{"t":1.9825,"v":-0.5},{"t":1.993,"v":0.52},{"t":2.0035,"v":-0.48},
{"t":2.014,"v":0.5},{"t":2.0245,"v":-0.46},{"t":2.035,"v":0.48},{"t":2.0455,"v":-0.45},{"t":2.056,"v":0.5},{"t":2.0665,"v":-0.48},{"t":2.077,"v":0.52},{"t":2.0875,"v":-0.5},{"t":2.098,"v":0.53},{"t":2.1085,"v":-0.49},{"t":2.119,"v":0.5},{"t":2.1295,"v":-0.47},{"t":2.14,"v":0.49},{"t":2.1505,"v":-0.46},{"t":2.161,"v":0.5},{"t":2.1715,"v":-0.48},{"t":2.182,"v":0.52},{"t":2.1925,"v":-0.49},{"t":2.203,"v":0.5},{"t":2.2135,"v":-0.45},{"t":2.224,"v":0.46},{"t":2.2345,"v":-0.43},{"t":2.245,"v":0.45},{"t":2.2555,"v":-0.42},{"t":2.266,"v":0.44},{"t":2.2765,"v":-0.41},{"t":2.287,"v":0.43},{"t":2.2975,"v":-0.42},{"t":2.308,"v":0.45},{"t":2.3185,"v":-0.43},{"t":2.329,"v":0.46},{"t":2.3395,"v":-0.44},{"t":2.35,"v":0.47},{"t":2.3605,"v":-0.45},{"t":2.371,"v":0.46},{"t":2.3815,"v":-0.43},{"t":2.392,"v":0.44},{"t":2.4025,"v":-0.42},{"t":2.413,"v":0.45},{"t":2.4235,"v":-0.44},{"t":2.434,"v":0.47},{"t":2.4445,"v":-0.46},{"t":2.455,"v":0.49},{"t":2.4655,"v":-0.47},{"t":2.476,"v":0.5},{"t":2.4865,"v":-0.48},{"t":2.497,"v":0.52},
{"t":2.5075,"v":-0.5},{"t":2.518,"v":0.54},{"t":2.5285,"v":-0.52},{"t":2.539,"v":0.55},{"t":2.5495,"v":-0.53},{"t":2.56,"v":0.56},{"t":2.5705,"v":-0.52},{"t":2.581,"v":0.54},{"t":2.5915,"v":-0.5},{"t":2.602,"v":0.52},{"t":2.6125,"v":-0.49},{"t":2.623,"v":0.5},{"t":2.6335,"v":-0.48},{"t":2.644,"v":0.5},{"t":2.6545,"v":-0.5},{"t":2.665,"v":0.53},{"t":2.6755,"v":-0.52},{"t":2.686,"v":0.55},{"t":2.6965,"v":-0.55},{"t":2.707,"v":0.56},{"t":2.7175,"v":-0.56},{"t":2.728,"v":0.55},{"t":2.7385,"v":-0.54},{"t":2.749,"v":0.53},{"t":2.7595,"v":-0.52},{"t":2.77,"v":0.5},{"t":2.7805,"v":-0.5},{"t":2.791,"v":0.48},{"t":2.8015,"v":-0.49},{"t":2.812,"v":0.5},{"t":2.8225,"v":-0.52},{"t":2.833,"v":0.53},{"t":2.8435,"v":-0.55},{"t":2.854,"v":0.55},{"t":2.8645,"v":-0.58},{"t":2.875,"v":0.56},{"t":2.8855,"v":-0.6},{"t":2.896,"v":0.55},{"t":2.9065,"v":-0.58},{"t":2.917,"v":0.54},{"t":2.9275,"v":-0.56},{"t":2.938,"v":0.52},{"t":2.9485,"v":-0.54},{"t":2.959,"v":0.5},{"t":2.9695,"v":-0.52},{"t":2.98,"v":0.52},{"t":2.9905,"v":-0.53},{"t":3.001,"v":0.55},{"t":3.0115,"v":-0.56},{"t":3.022,"v":0.57},{"t":3.0325,"v":-0.58},{"t":3.043,"v":0.58},{"t":3.0535,"v":-0.6},{"t":3.064,"v":0.6},{"t":3.0745,"v":-0.6},{"t":3.085,"v":0.58},{"t":3.0955,"v":-0.58},{"t":3.106,"v":0.56},{"t":3.1165,"v":-0.56},{"t":3.127,"v":0.55},{"t":3.1375,"v":-0.55},{"t":3.148,"v":0.56},{"t":3.1585,"v":-0.57},{"t":3.169,"v":0.58},{"t":3.1795,"v":-0.6},{"t":3.19,"v":0.6},{"t":3.2005,"v":-0.62},{"t":3.211,"v":0.62},{"t":3.2215,"v":-0.63},{"t":3.232,"v":0.62},{"t":3.2425,"v":-0.62},{"t":3.253,"v":0.6},{"t":3.2635,"v":-0.6},{"t":3.274,"v":0.58},{"t":3.2845,"v":-0.58},{"t":3.295,"v":0.57},{"t":3.3055,"v":-0.57},{"t":3.316,"v":0.58},{"t":3.3265,"v":-0.6},{"t":3.337,"v":0.6},{"t":3.3475,"v":-0.62},{"t":3.358,"v":0.62},{"t":3.3685,"v":-0.63},{"t":3.379,"v":0.63},{"t":3.3895,"v":-0.62},{"t":3.4,"v":0.6},{"t":3.4105,"v":-0.6},{"t":3.421,"v":0.58},{"t":3.4315,"v":-0.57},{"t":3.442,"v":0.57},{"t":3.4525,"v":-0.58},{"t":3.463,"v":0.6},{"t":3.4735,"v":-0.6}]
},
"bounds":"flush","spacing":85,
"resolve":{"scale":{"color":"independent"},"legend":{"color":"independent"}},
"vconcat":[
{"width":783,"height":74,
"resolve":{"axis":{"x":"independent","y":"independent"}},
"layer":[
{"data":{"name":"aR"},"mark":{"type":"line","strokeWidth":2.6,"interpolate":"monotone","clip":true},
"encoding":{"x":{"field":"t","type":"quantitative","scale":{"domain":[1,3.494],"range":[0,783],"nice":false,"zero":false},"axis":{"orient":"bottom","values":[1,1.5,2,2.5,3],"labelExpr":"datum.value==1||datum.value==2.5?'':toString(datum.value)","title":"Time (s)","titleX":390,"titleY":40.5,"grid":false}},
"y":{"field":"v","type":"quantitative","scale":{"domain":[-5,5],"nice":false,"zero":false},"axis":{"orient":"left","values":[-5,-2.5,0,2.5,5],"labelExpr":"abs(datum.value)==2.5?'':toString(datum.value)","title":"Speed (rad/s)","titleX":-65,"titleY":55,"grid":true}},
"color":{"datum":"Without Damping Controller","type":"nominal","scale":{"domain":["Without Damping Controller","With Damping Controller"],"range":["#ff0000","#0000ff"]},"legend":{"orient":"none","legendX":207,"legendY":-106,"title":null,"direction":"vertical","symbolType":"M-3,0H3","symbolSize":400,"symbolStrokeWidth":2.6,"symbolOffset":20,"labelOffset":22,"labelFontSize":21,"labelFont":"DejaVu Sans","labelColor":"#000000","rowPadding":11,"padding":7,"strokeColor":"#262626","fillColor":"#ffffff","labelLimit":400}}}},
{"data":{"name":"aB"},"mark":{"type":"line","strokeWidth":2.6,"interpolate":"monotone","clip":true},
"encoding":{"x":{"field":"t","type":"quantitative","scale":{"domain":[1,3.494],"range":[0,783],"nice":false,"zero":false},"axis":{"orient":"top","values":[1,1.5,2,2.5,3],"labels":false,"title":"(a) Rotor Speed deviation","titleX":391.5,"titleY":-8,"titleColor":"#000000","grid":false}},
"y":{"field":"v","type":"quantitative","scale":{"domain":[-5,5],"nice":false,"zero":false},"axis":{"orient":"right","values":[-5,-2.5,0,2.5,5],"labels":false,"title":null,"grid":false}},
"color":{"datum":"With Damping Controller","type":"nominal","scale":{"domain":["Without Damping Controller","With Damping Controller"],"range":["#ff0000","#0000ff"]}}}}
]},
{"bounds":"flush","spacing":88,"resolve":{"scale":{"color":"independent"},"legend":{"color":"independent"}},"vconcat":[
{"width":783,"height":64,
"resolve":{"axis":{"x":"independent","y":"independent"}},
"layer":[
{"data":{"name":"bR"},"mark":{"type":"line","strokeWidth":3,"clip":true},
"encoding":{"x":{"field":"t","type":"quantitative","scale":{"domain":[1,3.471],"range":[7,783],"nice":false,"zero":false},"axis":{"orient":"bottom","values":[1,1.5,2,2.5,3],"labelExpr":"datum.value==1||datum.value==2.5?'':toString(datum.value)","title":"Time (s)","titleX":398,"titleY":45,"grid":false}},
"y":{"field":"v","type":"quantitative","scale":{"domain":[-3,3],"nice":false,"zero":false},"axis":{"orient":"left","offset":-7,"values":[-2,0,2],"labelExpr":"toString(datum.value)","labelFontSize":18,"title":"Current (pu)","titleX":-70,"titleY":38,"grid":false}},
"color":{"datum":"Without Damping Controller","type":"nominal","scale":{"domain":["Without Damping Controller","With Damping Controller"],"range":["#ff0000","#0000ff"]},"legend":null}}},
{"data":{"name":"bB"},"mark":{"type":"line","strokeWidth":4.2,"clip":true},
"encoding":{"x":{"field":"t","type":"quantitative","scale":{"domain":[1,3.471],"range":[7,783],"nice":false,"zero":false},"axis":{"orient":"top","values":[1,1.5,2,2.5,3],"labels":false,"title":"(b) Machine current","titleX":395,"titleY":-5,"titleColor":"#000000","grid":false}},
"y":{"field":"v","type":"quantitative","scale":{"domain":[-3,3],"nice":false,"zero":false},"axis":{"orient":"right","values":[-2,0,2],"labels":false,"title":null,"grid":false}},
"color":{"datum":"With Damping Controller","type":"nominal","scale":{"domain":["Without Damping Controller","With Damping Controller"],"range":["#ff0000","#0000ff"]},"legend":null}}}
]},
{"bounds":"flush","spacing":99,"resolve":{"scale":{"color":"independent"},"legend":{"color":"independent"}},"vconcat":[
{"width":783,"height":64,
"resolve":{"axis":{"x":"independent","y":"independent"}},
"layer":[
{"data":{"name":"cR"},"mark":{"type":"line","strokeWidth":2.6,"interpolate":"monotone","clip":true},
"encoding":{"x":{"field":"t","type":"quantitative","scale":{"domain":[1,3.467],"range":[8.5,783],"nice":false,"zero":false},"axis":{"orient":"bottom","values":[1,1.5,2,2.5,3],"labelExpr":"datum.value==2.5?'':toString(datum.value)","title":"Time (s)","titleX":400,"titleY":49.5,"grid":true}},
"y":{"field":"v","type":"quantitative","scale":{"domain":[-0.5,2.5],"nice":false,"zero":false},"axis":{"orient":"left","offset":-8.5,"values":[-0.5,0,0.5,1,1.5,2,2.5],"labelExpr":"datum.value==0||datum.value==1||datum.value==2?toString(datum.value):''","labelFontSize":18,"title":"Torque (pu)","titleX":-73.5,"titleY":35,"grid":true}},
"color":{"datum":"Without Damping Controller","type":"nominal","scale":{"domain":["Without Damping Controller","With Damping Controller"],"range":["#ff0000","#0000ff"]},"legend":null}}},
{"data":{"name":"cB"},"mark":{"type":"line","strokeWidth":2.6,"interpolate":"monotone","clip":true},
"encoding":{"x":{"field":"t","type":"quantitative","scale":{"domain":[1,3.467],"range":[8.5,783],"nice":false,"zero":false},"axis":{"orient":"top","values":[1,1.5,2,2.5,3],"labels":false,"title":"(c) Generator Electrical torque","titleX":398,"titleY":-8,"titleColor":"#000000","grid":false}},
"y":{"field":"v","type":"quantitative","scale":{"domain":[-0.5,2.5],"nice":false,"zero":false},"axis":{"orient":"right","values":[0,1,2],"labels":false,"title":null,"grid":false}},
"color":{"datum":"With Damping Controller","type":"nominal","scale":{"domain":["Without Damping Controller","With Damping Controller"],"range":["#ff0000","#0000ff"]},"legend":null}}}
]},
{"bounds":"flush","spacing":90,"resolve":{"scale":{"color":"independent"},"legend":{"color":"independent"}},"vconcat":[
{"width":783,"height":73,
"resolve":{"axis":{"x":"independent","y":"independent"}},
"layer":[
{"data":{"name":"dR"},"mark":{"type":"line","strokeWidth":2.6,"interpolate":"monotone","clip":true},
"encoding":{"x":{"field":"t","type":"quantitative","scale":{"domain":[1,3.462],"range":[10,783],"nice":false,"zero":false},"axis":{"orient":"bottom","values":[1,1.5,2,2.5,3],"labelExpr":"datum.value==1||datum.value==2.5?'':toString(datum.value)","title":"Time (s)","titleX":401,"titleY":41,"grid":true}},
"y":{"field":"v","type":"quantitative","scale":{"domain":[-5,5],"nice":false,"zero":false},"axis":{"orient":"left","offset":-10,"values":[-5,-2.5,0,2.5,5],"labelExpr":"abs(datum.value)==2.5?'':toString(datum.value)","title":"Torque (pu)","titleX":-77,"titleY":28,"grid":true}},
"color":{"datum":"Without Damping Controller","type":"nominal","scale":{"domain":["Without Damping Controller","With Damping Controller"],"range":["#ff0000","#0000ff"]},"legend":null}}},
{"data":{"name":"dB"},"mark":{"type":"line","strokeWidth":2.6,"interpolate":"monotone","clip":true},
"encoding":{"x":{"field":"t","type":"quantitative","scale":{"domain":[1,3.462],"range":[10,783],"nice":false,"zero":false},"axis":{"orient":"top","values":[1,1.5,2,2.5,3],"labels":false,"title":"(d) LPA to LPB torque","titleX":402,"titleY":-10,"titleColor":"#000000","grid":false}},
"y":{"field":"v","type":"quantitative","scale":{"domain":[-5,5],"nice":false,"zero":false},"axis":{"orient":"right","values":[-5,0,5],"labels":false,"title":null,"grid":false}},
"color":{"datum":"With Damping Controller","type":"nominal","scale":{"domain":["Without Damping Controller","With Damping Controller"],"range":["#ff0000","#0000ff"]},"legend":null}}}
]},
{"width":783,"height":62,
"resolve":{"axis":{"x":"independent","y":"independent"}},
"layer":[
{"data":{"name":"eR"},"mark":{"type":"line","strokeWidth":2.6,"interpolate":"monotone","clip":true},
"encoding":{"x":{"field":"t","type":"quantitative","scale":{"domain":[1,3.462],"range":[10,783],"nice":false,"zero":false},"axis":{"orient":"bottom","values":[1,1.5,2,2.5,3],"labelExpr":"datum.value==2.5?'':toString(datum.value)","title":"Time (s)","titleX":401,"titleY":49,"grid":true}},
"y":{"field":"v","type":"quantitative","scale":{"domain":[-1,1],"nice":false,"zero":false},"axis":{"orient":"left","offset":-10,"values":[-1,-0.5,0,0.5,1],"labelExpr":"abs(datum.value)==0.5?'':toString(datum.value)","title":"Torque (pu)","titleX":-77.5,"titleY":22,"grid":true}},
"color":{"datum":"Without Damping Controller","type":"nominal","scale":{"domain":["Without Damping Controller","With Damping Controller"],"range":["#ff0000","#0000ff"]},"legend":null}}},
{"data":{"name":"eB"},"mark":{"type":"line","strokeWidth":2.6,"interpolate":"monotone","clip":true},
"encoding":{"x":{"field":"t","type":"quantitative","scale":{"domain":[1,3.462],"range":[10,783],"nice":false,"zero":false},"axis":{"orient":"top","values":[1,1.5,2,2.5,3],"labels":false,"title":"(e) Generator to Exciter torque","titleX":397,"titleY":-12,"titleColor":"#000000","grid":false}},
"y":{"field":"v","type":"quantitative","scale":{"domain":[-1,1],"nice":false,"zero":false},"axis":{"orient":"right","values":[-1,0,1],"labels":false,"title":null,"grid":false}},
"color":{"datum":"With Damping Controller","type":"nominal","scale":{"domain":["Without Damping Controller","With Damping Controller"],"range":["#ff0000","#0000ff"]},"legend":null}}}
]}
]}
]}
]}
]
}
